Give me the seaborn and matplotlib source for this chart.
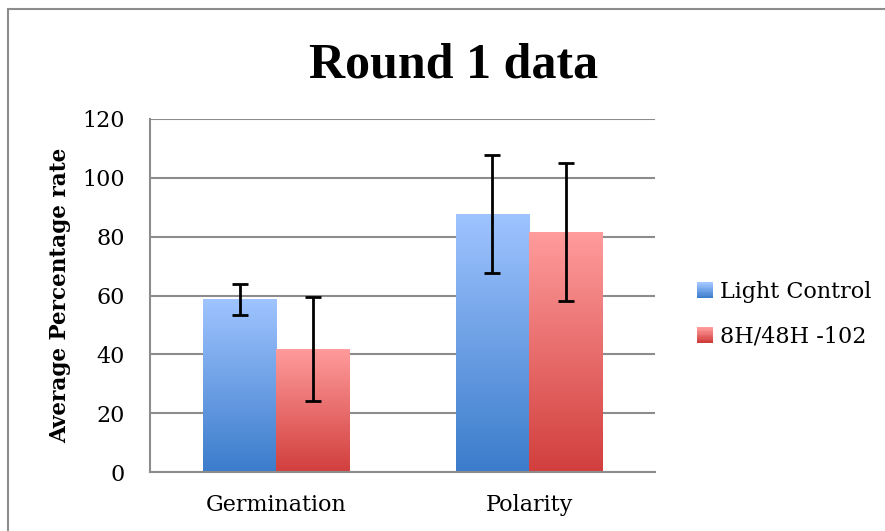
import matplotlib

matplotlib.use("Agg")
import matplotlib.pyplot as plt
import numpy as np
import pandas as pd
import seaborn as sns
from matplotlib.colors import LinearSegmentedColormap
from matplotlib.legend_handler import HandlerBase
from matplotlib.patches import Rectangle

# データ
CATEGORIES = ["Germination", "Polarity"]
SERIES = ["Light Control", "8H/48H -102"]
LIGHT_VALUES = [58.7, 87.7]
LIGHT_ERRORS = [5.2, 20.2]
TREAT_VALUES = [41.8, 81.6]
TREAT_ERRORS = [17.7, 23.5]

# グラデーション (上, 下)
GRADIENTS = {
    "Light Control": ("#9fc4ff", "#3b7ccb"),
    "8H/48H -102": ("#ff9c9c", "#d13f3d"),
}

SERIF = ["DejaVu Serif", "Liberation Serif"]


def build_frame():
    rows = []
    for cat, v, e in zip(CATEGORIES, LIGHT_VALUES, LIGHT_ERRORS):
        rows.append({"category": cat, "series": SERIES[0], "value": v, "err": e})
    for cat, v, e in zip(CATEGORIES, TREAT_VALUES, TREAT_ERRORS):
        rows.append({"category": cat, "series": SERIES[1], "value": v, "err": e})
    return pd.DataFrame(rows)


def fill_gradient(ax, patch, top, bottom):
    """バーの中を縦グラデーションで塗る"""
    x0, y0 = patch.get_x(), patch.get_y()
    w, h = patch.get_width(), patch.get_height()
    cmap = LinearSegmentedColormap.from_list("g", [bottom, top])
    grad = np.linspace(0, 1, 256).reshape(-1, 1)
    im = ax.imshow(
        grad,
        cmap=cmap,
        aspect="auto",
        origin="lower",
        extent=[x0, x0 + w, y0, y0 + h],
        zorder=patch.get_zorder() + 0.1,
        interpolation="bilinear",
    )
    im.set_clip_path(patch)
    patch.set_facecolor("none")


class GradientHandler(HandlerBase):
    """凡例用の小さなグラデーション四角"""

    def __init__(self, top, bottom):
        super().__init__()
        self.top = top
        self.bottom = bottom

    def create_artists(self, legend, orig, xd, yd, width, height, fontsize, trans):
        cmap = LinearSegmentedColormap.from_list("g", [self.bottom, self.top])
        size = min(width, height)
        x = (width - size) / 2
        y = (height - size) / 2
        n = 12
        artists = []
        for i in range(n):
            r = Rectangle(
                (x, y + size * i / n),
                size,
                size / n + 0.3,
                facecolor=cmap(i / (n - 1)),
                edgecolor="none",
                transform=trans,
            )
            artists.append(r)
        return artists


def main():
    df = build_frame()
    sns.set_theme(style="white")
    plt.rcParams["font.family"] = SERIF
    plt.rcParams["text.color"] = "black"
    plt.rcParams["axes.labelcolor"] = "black"

    fig = plt.figure(figsize=(8.85, 5.31), dpi=100)
    ax = fig.add_axes([0.1695, 0.111, 0.571, 0.665])

    sns.barplot(
        data=df,
        x="category",
        y="value",
        hue="series",
        order=CATEGORIES,
        hue_order=SERIES,
        errorbar=None,
        width=0.58,
        ax=ax,
        legend=False,
        linewidth=0,
    )

    # バーにグラデーションとエラーバー
    for container, name in zip(ax.containers, SERIES):
        top, bottom = GRADIENTS[name]
        errs = df[df["series"] == name].set_index("category").loc[CATEGORIES, "err"]
        for patch, err in zip(container.patches, errs):
            fill_gradient(ax, patch, top, bottom)
            cx = patch.get_x() + patch.get_width() / 2
            ax.errorbar(
                cx,
                patch.get_height(),
                yerr=err,
                color="black",
                elinewidth=2,
                capsize=6,
                capthick=2,
                zorder=5,
            )

    ax.set_xlim(-0.5, 1.5)
    ax.set_ylim(0, 120)
    ax.set_yticks(range(0, 121, 20))
    ax.yaxis.grid(True, color="#8c8c8c", linewidth=1.5)
    ax.set_axisbelow(True)
    for side in ["top", "right"]:
        ax.spines[side].set_visible(False)
    for side in ["left", "bottom"]:
        ax.spines[side].set_color("#8c8c8c")
        ax.spines[side].set_linewidth(1.5)
    ax.tick_params(axis="y", length=0, labelsize=16, pad=18, colors="black")
    ax.tick_params(axis="x", length=0, labelsize=16, pad=16, colors="black")
    ax.set_xlabel("")
    ax.set_ylabel(
        "Average Percentage rate",
        fontsize=15.5,
        fontweight="bold",
        labelpad=8,
        color="black",
    )

    fig.text(
        0.512,
        1 - 78 / 531,
        "Round 1 data",
        fontsize=36,
        fontweight="bold",
        family=["Liberation Serif", "DejaVu Serif"],
        ha="center",
        va="baseline",
        color="black",
    )

    handles = [Rectangle((0, 0), 1, 1) for _ in SERIES]
    ax.legend(
        handles,
        SERIES,
        handler_map={h: GradientHandler(*GRADIENTS[n]) for h, n in zip(handles, SERIES)},
        loc="center left",
        bbox_to_anchor=(1.083, 0.446),
        frameon=False,
        fontsize=16,
        handlelength=0.7,
        handleheight=0.7,
        handletextpad=0.3,
        labelspacing=1.0,
        borderpad=0,
        borderaxespad=0,
        labelcolor="black",
    )

    # 外枠
    fig.patches.append(
        Rectangle(
            (8 / 885, -0.1),
            1.2,
            1.1 - 9 / 531,
            transform=fig.transFigure,
            fill=False,
            edgecolor="#8c8c8c",
            linewidth=1.5,
        )
    )

    fig.savefig("out.png", dpi=100)
    plt.close(fig)


if __name__ == "__main__":
    main()
